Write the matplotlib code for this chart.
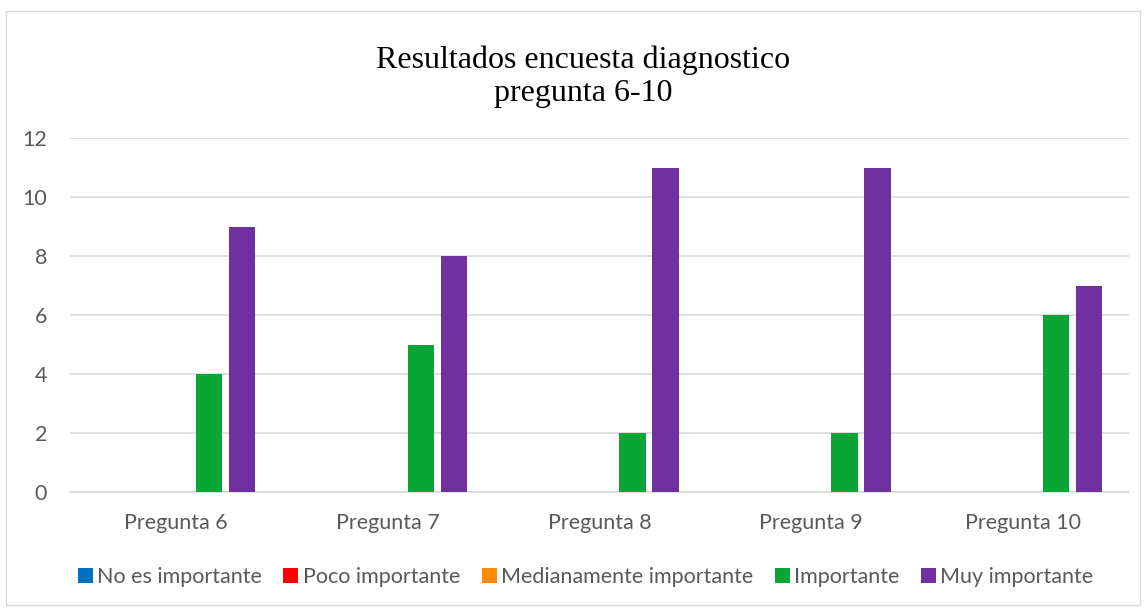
import matplotlib.pyplot as plt
from matplotlib.patches import Rectangle
import numpy as np

categories = ["Pregunta 6", "Pregunta 7", "Pregunta 8", "Pregunta 9", "Pregunta 10"]
series = ["No es importante", "Poco importante", "Medianamente importante",
          "Importante", "Muy importante"]
no_es = [0, 0, 0, 0, 0]
poco = [0, 0, 0, 0, 0]
mediana = [0, 0, 0, 0, 0]
importante = [4, 5, 2, 2, 6]
muy = [9, 8, 11, 11, 7]
colors = ["#0070C0", "#FF0000", "#FF8C00", "#0AA635", "#7030A0"]

values = [no_es, poco, mediana, importante, muy]

plt.rcParams['font.family'] = ['Lato', 'DejaVu Sans']

fig = plt.figure(figsize=(11.46, 6.11), dpi=100)
ax = fig.add_axes([70 / 1146, 1 - 492 / 611, (1129 - 70) / 1146, (492 - 138) / 611])

# outer chart border
fig.patches.append(Rectangle((6 / 1146, 6 / 611), 1134 / 1146, 594 / 611,
                             transform=fig.transFigure, fill=False,
                             edgecolor="#D9D9D9", linewidth=1))

x = np.arange(len(categories))
step = 0.156
width = 0.125
handles = []
for i, (name, vals) in enumerate(zip(series, values)):
    b = ax.bar(x + (i - 2) * step, vals, width, color=colors[i], label=name, zorder=3)
    handles.append(b)

ax.set_xlim(-0.5, 4.5)
ax.set_ylim(0, 12)
ax.set_yticks(range(0, 13, 2))
ax.set_xticks(x)
ax.set_xticklabels(categories)
ax.yaxis.grid(True, color="#D9D9D9", linewidth=1.2, zorder=0)
for s in ["top", "right", "left"]:
    ax.spines[s].set_visible(False)
ax.spines["bottom"].set_color("#D9D9D9")
ax.spines["bottom"].set_linewidth(1.2)
ax.tick_params(axis="both", length=0, labelsize=15.5, labelcolor="#595959")
ax.tick_params(axis="y", pad=16.5)
ax.tick_params(axis="x", pad=15)

# baseline of the last title line
fig.text(583 / 1146, 1 - 101 / 611, "Resultados encuesta diagnostico\npregunta 6-10",
         ha="center", va="baseline", fontsize=23, family="Liberation Serif",
         linespacing=1.2, color="black")

fig.legend(handles=handles, loc="center", bbox_to_anchor=(0.511, 1 - 577 / 611),
           ncol=5, frameon=False, fontsize=15.5, handlelength=0.7, handleheight=0.7,
           handletextpad=0.2, columnspacing=1.0, labelcolor="#595959")

fig.savefig("out.png", dpi=100)
